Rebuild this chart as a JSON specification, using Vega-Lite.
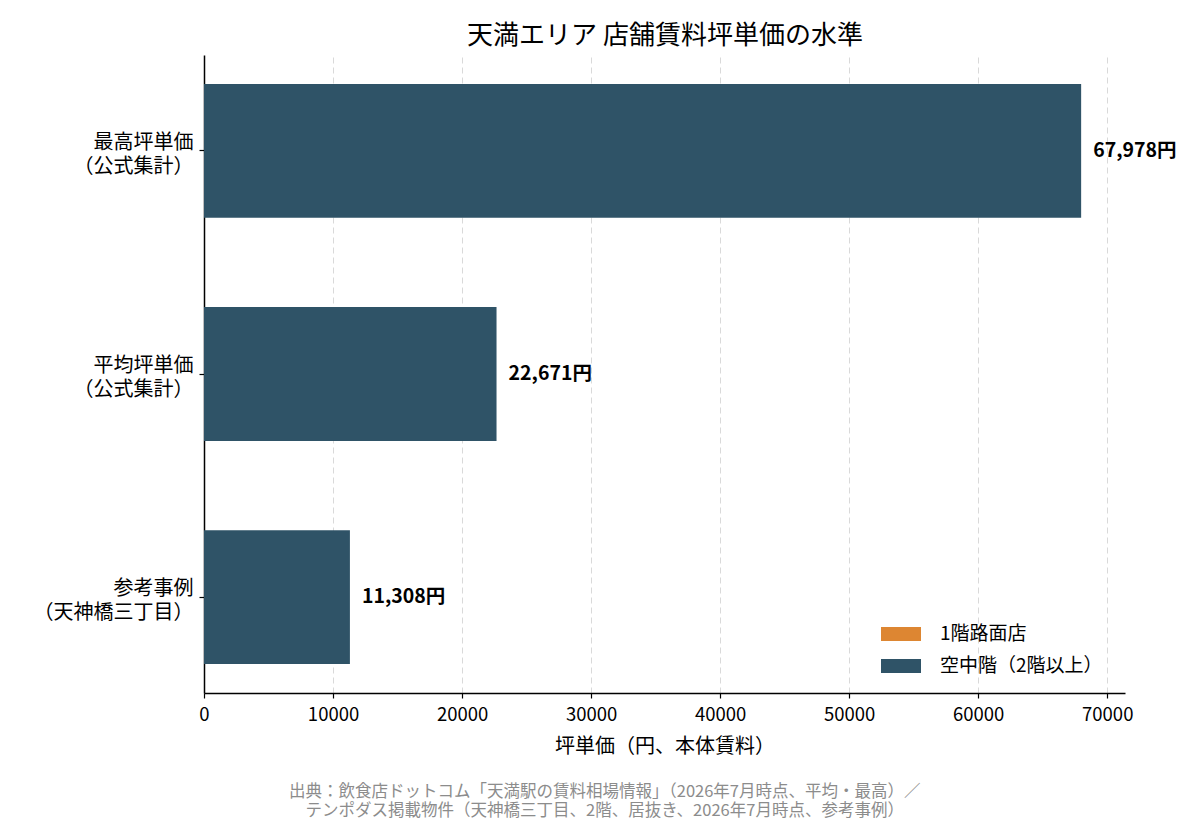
{
  "$schema": "https://vega.github.io/schema/vega-lite/v6.json",
  "autosize": {"type": "none"},
  "padding": {"left": 204, "top": 55, "right": 75, "bottom": 132},
  "width": 921,
  "height": 638,
  "background": "white",
  "config": {
    "font": "Noto Sans CJK JP",
    "view": {"stroke": null}
  },
  "title": {
    "text": ["出典：飲食店ドットコム「天満駅の賃料相場情報」（2026年7月時点、平均・最高）／", "テンポダス掲載物件（天神橋三丁目、2階、居抜き、2026年7月時点、参考事例）"],
    "orient": "bottom",
    "anchor": "middle",
    "frame": "bounds",
    "fontSize": 16.5,
    "fontWeight": "normal",
    "color": "#8c8c8c",
    "lineHeight": 19.5,
    "offset": 27
  },
  "data": {
    "values": [
      {"item": "最高坪単価|（公式集計）", "floor": "空中階（2階以上）", "value": 67978},
      {"item": "平均坪単価|（公式集計）", "floor": "空中階（2階以上）", "value": 22671},
      {"item": "参考事例|（天神橋三丁目）", "floor": "空中階（2階以上）", "value": 11308}
    ]
  },
  "transform": [
    {"calculate": "format(datum.value, ',') + '円'", "as": "label"}
  ],
  "encoding": {
    "y": {
      "field": "item",
      "type": "nominal",
      "sort": null,
      "scale": {"paddingInner": 0.4, "paddingOuter": 0.13},
      "axis": {
        "title": null,
        "labelExpr": "split(datum.label, '|')",
        "labelFontSize": 20,
        "labelColor": "black",
        "labelLineHeight": 24,
        "labelPadding": 6,
        "labelAlign": "right",
        "labelBaseline": "middle",
        "labelOffset": -8,
        "domainColor": "black",
        "domainWidth": 1.5,
        "tickColor": "black",
        "tickSize": 5,
        "tickWidth": 1.2
      }
    }
  },
  "layer": [
    {
      "mark": {"type": "bar"},
      "encoding": {
        "x": {
          "field": "value",
          "type": "quantitative",
          "scale": {"domain": [0, 71377], "nice": false, "zero": true},
          "axis": {
            "title": "坪単価（円、本体賃料）",
            "titleFontSize": 20,
            "titleFontWeight": "normal",
            "titleColor": "black",
            "titlePadding": 13,
            "values": [0, 10000, 20000, 30000, 40000, 50000, 60000, 70000],
            "format": "d",
            "labelFontSize": 18.5,
            "labelColor": "black",
            "labelPadding": 7,
            "labelFlush": false,
            "domainColor": "black",
            "domainWidth": 1.5,
            "tickColor": "black",
            "tickSize": 5,
            "tickWidth": 1.2,
            "grid": true,
            "gridColor": "#d9d9d9",
            "gridDash": [6, 4],
            "gridWidth": 1
          }
        },
        "color": {
          "field": "floor",
          "type": "nominal",
          "scale": {
            "domain": ["1階路面店", "空中階（2階以上）"],
            "range": ["#dd8632", "#2f5367"]
          },
          "legend": {
            "title": null,
            "orient": "none",
            "legendX": 687,
            "legendY": 569,
            "symbolType": "M-2,-0.7H2V0.7H-2Z",
            "symbolSize": 400,
            "symbolStrokeWidth": 0,
            "symbolOpacity": 1,
            "labelFontSize": 19,
            "labelColor": "black",
            "labelOffset": 29,
            "labelLimit": 300,
            "rowPadding": 12
          }
        }
      }
    },
    {
      "mark": {
        "type": "text",
        "align": "left",
        "baseline": "middle",
        "dx": 12,
        "fontSize": 19.5,
        "fontWeight": "bold",
        "color": "black"
      },
      "encoding": {
        "x": {"field": "value", "type": "quantitative", "axis": null},
        "text": {"field": "label", "type": "nominal"}
      }
    },
    {
      "mark": {"type": "text", "opacity": 0},
      "encoding": {
        "x": {
          "field": "value",
          "type": "quantitative",
          "axis": {
            "orient": "top",
            "title": "天満エリア 店舗賃料坪単価の水準",
            "titleFontSize": 26,
            "titleFontWeight": "normal",
            "titleColor": "black",
            "titlePadding": 7,
            "labels": false,
            "ticks": false,
            "domain": false,
            "grid": false
          }
        },
        "text": {"field": "label", "type": "nominal"}
      }
    }
  ],
  "resolve": {"axis": {"x": "independent"}}
}
